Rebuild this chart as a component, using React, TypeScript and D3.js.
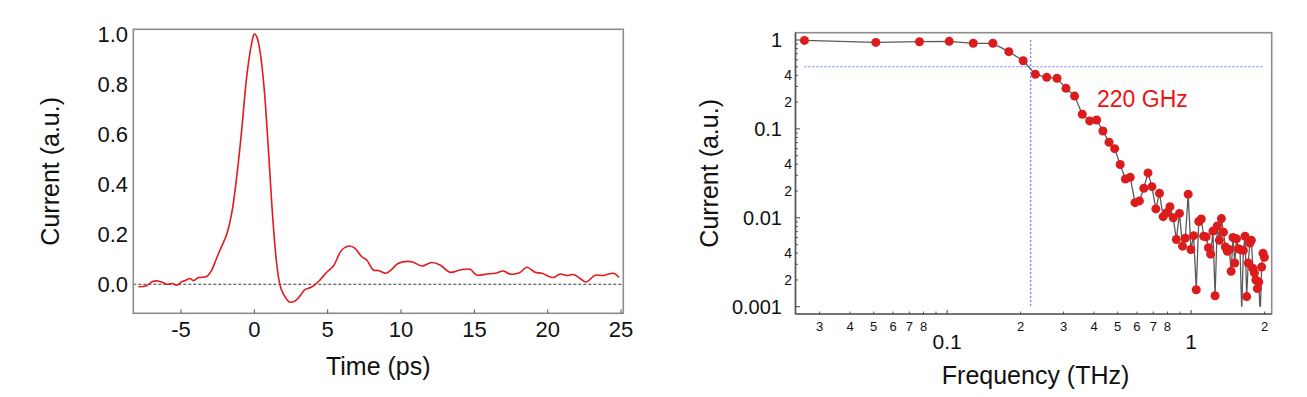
import { scaleLinear, scaleLog, line, curveCatmullRom, curveLinear } from 'd3'

// Two panels side by side: photocurrent pulse in time (left) and its
// spectrum on log-log axes with the 220 GHz corner marked (right).

const FONT = '"Liberation Sans", Arial, Helvetica, sans-serif'
const RED = '#e3191c'
const DOT = '#dc1c1c'
const FRAME = '#8c8c8c'
const CUTOFF_BLUE = '#6f7cf5'

// ---- time trace (ps, a.u.)
const timePs = [
  -7.9, -7.35, -6.9, -6.55, -6.2, -5.95, -5.6, -5.3, -4.95, -4.6, -4.4, -4.15, -3.8, -3.25, -2.9, -2.6,
  -2.34, -1.88, -1.54, -1.2, -0.86, -0.52, -0.18, 0.0, 0.16, 0.39, 0.66, 0.96, 1.25, 1.52, 1.75, 1.98,
  2.39, 2.77, 3.11, 3.45, 3.91, 4.48, 4.93, 5.39, 5.96, 6.52, 6.87, 7.32, 7.66, 8.11, 8.45, 8.98, 9.37,
  9.82, 10.73, 11.41, 12.09, 12.66, 13.34, 14.02, 14.7, 15.16, 15.84, 16.41, 16.98, 17.43, 18.11, 18.57,
  19.14, 19.59, 20.39, 20.84, 21.3, 21.75, 22.2, 22.61, 23.23, 23.8, 24.48, 24.86,
]
const pulseCurrent = [
  -0.01, -0.006, 0.012, 0.013, 0.006, 0.0, 0.003, -0.004, 0.01, 0.018, 0.023, 0.015, 0.027, 0.031, 0.057, 0.1,
  0.137, 0.2, 0.284, 0.43, 0.617, 0.83, 0.964, 1.0, 0.99, 0.93, 0.79, 0.537, 0.27, 0.084, -0.003, -0.039,
  -0.071, -0.067, -0.047, -0.021, -0.011, 0.017, 0.048, 0.073, 0.137, 0.153, 0.143, 0.11, 0.097, 0.057, 0.055,
  0.044, 0.06, 0.084, 0.09, 0.073, 0.087, 0.077, 0.048, 0.057, 0.06, 0.037, 0.041, 0.044, 0.053, 0.041, 0.047,
  0.068, 0.048, 0.044, 0.027, 0.041, 0.035, 0.039, 0.023, 0.009, 0.036, 0.035, 0.044, 0.028,
]
const timeTicks = [-5, 0, 5, 10, 15, 20, 25]
const currentTicks = [0, 0.2, 0.4, 0.6, 0.8, 1.0]

// ---- spectrum (THz, a.u.)
const freqTHz = [
  0.026, 0.051, 0.077, 0.102, 0.128, 0.154, 0.179, 0.205, 0.23, 0.256, 0.282, 0.307, 0.333, 0.358, 0.384,
  0.41, 0.435, 0.461, 0.486, 0.512, 0.538, 0.563, 0.589, 0.614, 0.64, 0.666, 0.691, 0.717, 0.742, 0.768,
  0.794, 0.819, 0.845, 0.87, 0.896, 0.922, 0.947, 0.973, 0.998, 1.024, 1.05, 1.075, 1.101, 1.126, 1.152,
  1.178, 1.203, 1.229, 1.254, 1.28, 1.306, 1.331, 1.357, 1.382, 1.408, 1.434, 1.459, 1.485, 1.51, 1.536,
  1.562, 1.587, 1.613, 1.638, 1.664, 1.69, 1.715, 1.741, 1.766, 1.792, 1.818, 1.843, 1.869, 1.894, 1.92,
  1.946, 1.971, 1.997,
]
const spectrum = [
  0.99, 0.94, 0.957, 0.966, 0.918, 0.918, 0.739, 0.585, 0.411, 0.38, 0.371, 0.286, 0.234, 0.146, 0.123,
  0.126, 0.0947, 0.0707, 0.06, 0.0398, 0.0273, 0.0285, 0.0148, 0.0155, 0.0215, 0.032, 0.0224, 0.0126, 0.0189, 0.0103,
  0.0114, 0.0133, 0.01, 0.0057, 0.0112, 0.0048, 0.0059, 0.0184, 0.0044, 0.0063, 0.00155, 0.0091, 0.0097, 0.0062, 0.0061,
  0.0046, 0.0039, 0.0071, 0.00133, 0.0081, 0.0056, 0.0098, 0.0069, 0.0047, 0.0042, 0.0044, 0.0025, 0.006, 0.0031, 0.0058,
  0.0045, 0.0044, 0.0009, 0.0043, 0.0062, 0.0013, 0.0031, 0.0052, 0.0056, 0.0027, 0.0024, 0.002, 0.0016, 0.0019, 0.0008,
  0.0028, 0.004, 0.0036,
]
const cutoffTHz = 0.22
const halfLevel = 0.5
const decadeTicks = [1, 0.1, 0.01, 0.001]
const decadeLabels = ['1', '0.1', '0.01', '0.001']
const freqMajor = [0.1, 1]
const freqMinor = [0.03, 0.04, 0.05, 0.06, 0.07, 0.08, 0.09, 0.2, 0.3, 0.4, 0.5, 0.6, 0.7, 0.8, 0.9, 2]
const freqMinorLabels = ['3', '4', '5', '6', '7', '8', '', '2', '3', '4', '5', '6', '7', '8', '', '2']
const curMinorMult = [2, 3, 4, 5, 6, 7, 8, 9]

function TimeTrace() {
  const L = 133.3, R = 623.3, T = 29.3, B = 313.3
  const x = scaleLinear().domain([-8.25, 25.15]).range([L, R])
  const y = scaleLinear().domain([-0.116, 1.019]).range([B, T])
  const d = line<number>()
    .x((_, i) => x(timePs[i]))
    .y((v) => y(v))
    .curve(curveCatmullRom.alpha(0.5))(pulseCurrent)

  return (
    <g fontFamily={FONT}>
      <line x1={L} x2={R} y1={y(0)} y2={y(0)} stroke="#222" strokeWidth={0.9} strokeDasharray="3,2" />
      {d && <path d={d} fill="none" stroke={RED} strokeWidth={1.6} />}
      <rect x={L} y={T} width={R - L} height={B - T} fill="none" stroke={FRAME} strokeWidth={1.6} />
      {timeTicks.map((t) => (
        <g key={t}>
          <line x1={x(t)} x2={x(t)} y1={B} y2={B - 4} stroke="#555" strokeWidth={1} />
          <text x={x(t)} y={B + 24} textAnchor="middle" fontSize={22} fill="#111">
            {t < 0 ? '-' + Math.abs(t) : t}
          </text>
        </g>
      ))}
      {currentTicks.map((v) => (
        <text key={v} x={128} y={y(v)} textAnchor="end" dominantBaseline="central" fontSize={22} fill="#111">
          {v.toFixed(1)}
        </text>
      ))}
      <text x={(L + R) / 2} y={375} textAnchor="middle" fontSize={25} fill="#111">
        Time (ps)
      </text>
      <text
        transform={`translate(${59},${(T + B) / 2}) rotate(-90)`}
        textAnchor="middle"
        fontSize={25}
        fill="#111"
      >
        Current (a.u.)
      </text>
    </g>
  )
}

function Spectrum() {
  const L = 795.5, R = 1271.7, T = 32.7, B = 314
  const x = scaleLog().domain([0.0239, 2.14]).range([L, R])
  const y = scaleLog().domain([0.000828, 1.208]).range([B, T])
  const yFloor = y(0.001)
  const pts = freqTHz.map((f, i) => ({ f, v: spectrum[i] }))
  const d = line<{ f: number; v: number }>()
    .x((p) => x(p.f))
    .y((p) => y(Math.max(p.v, 0.0001)))
    .curve(curveLinear)(pts)

  return (
    <g fontFamily={FONT}>
      <defs>
        <clipPath id="specClip">
          <rect x={L} y={T} width={R - L} height={yFloor - T} />
        </clipPath>
      </defs>
      <rect x={L} y={T} width={R - L} height={B - T} fill="none" stroke={FRAME} strokeWidth={1.6} />
      <line x1={L} x2={L} y1={T} y2={B} stroke="#555" strokeWidth={1.4} />
      <line x1={L} x2={R} y1={B} y2={B} stroke="#666" strokeWidth={1.4} />

      {/* y ticks */}
      {decadeTicks.map((v, i) => (
        <g key={v}>
          <line x1={L} x2={L + 4.5} y1={y(v)} y2={y(v)} stroke="#444" strokeWidth={1} />
          <text x={782} y={y(v)} textAnchor="end" dominantBaseline="central" fontSize={20} fill="#111">
            {decadeLabels[i]}
          </text>
        </g>
      ))}
      {decadeTicks.slice(1).map((dec) =>
        curMinorMult.map((m) => {
          const v = dec * m
          return (
            <g key={`${dec}-${m}`}>
              <line x1={L} x2={L + 2.5} y1={y(v)} y2={y(v)} stroke="#444" strokeWidth={0.9} />
              {(m === 2 || m === 4) && (
                <text x={792} y={y(v)} textAnchor="end" dominantBaseline="central" fontSize={14} fill="#111">
                  {m}
                </text>
              )}
            </g>
          )
        })
      )}

      {/* x ticks */}
      {freqMajor.map((f) => (
        <g key={f}>
          <line x1={x(f)} x2={x(f)} y1={B} y2={B - 4} stroke="#444" strokeWidth={1} />
          <text x={x(f)} y={349} textAnchor="middle" fontSize={21} fill="#111">
            {f}
          </text>
        </g>
      ))}
      {freqMinor.map((f, i) => (
        <g key={f}>
          <line x1={x(f)} x2={x(f)} y1={B} y2={B - 2.5} stroke="#444" strokeWidth={0.9} />
          <text x={x(f)} y={326} textAnchor="middle" dominantBaseline="central" fontSize={13} fill="#111">
            {freqMinorLabels[i]}
          </text>
        </g>
      ))}

      {/* half level and cutoff */}
      <line
        x1={x(freqTHz[0])}
        x2={x(2.0)}
        y1={y(halfLevel)}
        y2={y(halfLevel)}
        stroke={CUTOFF_BLUE}
        strokeWidth={1.2}
        strokeDasharray="2,2"
      />
      <line
        x1={x(cutoffTHz)}
        x2={x(cutoffTHz)}
        y1={y(1)}
        y2={yFloor}
        stroke={CUTOFF_BLUE}
        strokeWidth={1.2}
        strokeDasharray="2,2"
      />

      <g clipPath="url(#specClip)">
        {d && <path d={d} fill="none" stroke="#5a5a5a" strokeWidth={1.3} />}
        {pts
          .filter((p) => p.v >= 0.001)
          .map((p) => (
            <circle key={p.f} cx={x(p.f)} cy={y(p.v)} r={4.5} fill={DOT} />
          ))}
      </g>

      <text x={1097} y={107} fontSize={23} fill="#f01010">
        220 GHz
      </text>
      <text x={(L + R) / 2 + 2} y={384} textAnchor="middle" fontSize={25} fill="#111">
        Frequency (THz)
      </text>
      <text
        transform={`translate(${718},${(T + B) / 2}) rotate(-90)`}
        textAnchor="middle"
        fontSize={25}
        fill="#111"
      >
        Current (a.u.)
      </text>
    </g>
  )
}

export default function App() {
  return (
    <svg
      width={1307}
      height={397}
      viewBox="0 0 1307 397"
      style={{ position: 'absolute', left: 0, top: 0, background: '#fff' }}
    >
      <rect width={1307} height={397} fill="#fff" />
      <TimeTrace />
      <Spectrum />
    </svg>
  )
}
